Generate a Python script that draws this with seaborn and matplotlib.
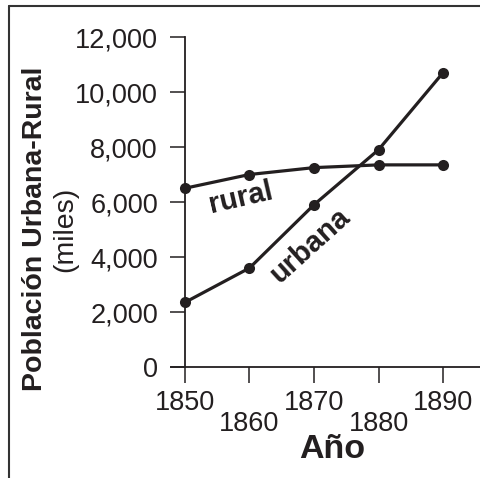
import matplotlib
matplotlib.use("Agg")
import matplotlib.pyplot as plt
from matplotlib.lines import Line2D
import seaborn as sns
import pandas as pd

# data
years = [1850, 1860, 1870, 1880, 1890]
rural = [6500, 7000, 7250, 7350, 7350]
urbana = [2350, 3600, 5900, 7900, 10700]

y_ticks = [0, 2000, 4000, 6000, 8000, 10000, 12000]
y_labels = ["0", "2,000", "4,000", "6,000", "8,000", "10,000", "12,000"]
x_labels = ["1850", "1860", "1870", "1880", "1890"]

df = pd.DataFrame({
    "Año": years * 2,
    "valor": rural + urbana,
    "serie": ["rural"] * len(years) + ["urbana"] * len(years),
})

sns.set_style("ticks")
plt.rcParams["font.family"] = ["Liberation Sans", "DejaVu Sans"]
ink = "#231f20"

W, H = 481, 478
fig = plt.figure(figsize=(W / 100, H / 100), dpi=100)
ax = fig.add_axes([171 / W, 1 - 367 / H, 310 / W, 330 / H])

sns.lineplot(data=df, x="Año", y="valor", hue="serie",
             palette=[ink, ink], marker="o", markersize=8,
             markeredgewidth=0, linewidth=2.3, legend=False, ax=ax)
for ln in ax.lines:
    ln.set_clip_on(False)

ax.set_xlim(1847.83, 1895.89)
ax.set_ylim(0, 12000)

for s in ["top", "right"]:
    ax.spines[s].set_visible(False)
ax.spines["left"].set_position(("data", 1850))
ax.spines["left"].set_bounds(0, 12000)
for s in ["left", "bottom"]:
    ax.spines[s].set_linewidth(1.3)
    ax.spines[s].set_color(ink)

ax.set_yticks(y_ticks)
ax.set_yticklabels(y_labels)
ax.set_xticks(years)
ax.set_xticklabels(x_labels)
ax.tick_params(axis="y", length=10.5, width=1.1, pad=9, labelsize=19.5,
               colors=ink, direction="out")
ax.tick_params(axis="x", length=11.5, width=1.1, pad=5, labelsize=19.5,
               colors=ink, direction="out")
# staggered year labels
for i, t in enumerate(ax.xaxis.get_major_ticks()):
    if i % 2 == 1:
        t.set_pad(20)

ax.set_xlabel("")
ax.set_ylabel("")

# series labels
ax.text(1858.6, 6150, "rural", rotation=13, fontsize=21, fontweight="bold",
        color=ink, ha="center", va="center", rotation_mode="anchor")
ax.text(1869.3, 4400, "urbana", rotation=42, fontsize=21, fontweight="bold",
        color=ink, ha="center", va="center", rotation_mode="anchor")

# axis titles
fig.text(332 / W, 1 - 450 / H, "Año", fontsize=24.5, fontweight="bold",
         color=ink, ha="center", va="center")
fig.text(35 / W, 1 - 229 / H, "Población Urbana-Rural", rotation=90,
         fontsize=20.5, fontweight="bold", color=ink, ha="center", va="center")
fig.text(65 / W, 1 - 229 / H, "(miles)", rotation=90, fontsize=20.5,
         color=ink, ha="center", va="center")

# frame lines at left and top of the panel
fig.add_artist(Line2D([9 / W, 9 / W], [0, 1 - 6 / H], color="#333333",
                      linewidth=1.5, transform=fig.transFigure))
fig.add_artist(Line2D([9 / W, 1], [1 - 6 / H, 1 - 6 / H], color="#333333",
                      linewidth=1.5, transform=fig.transFigure))

fig.savefig("out.png", dpi=100)
